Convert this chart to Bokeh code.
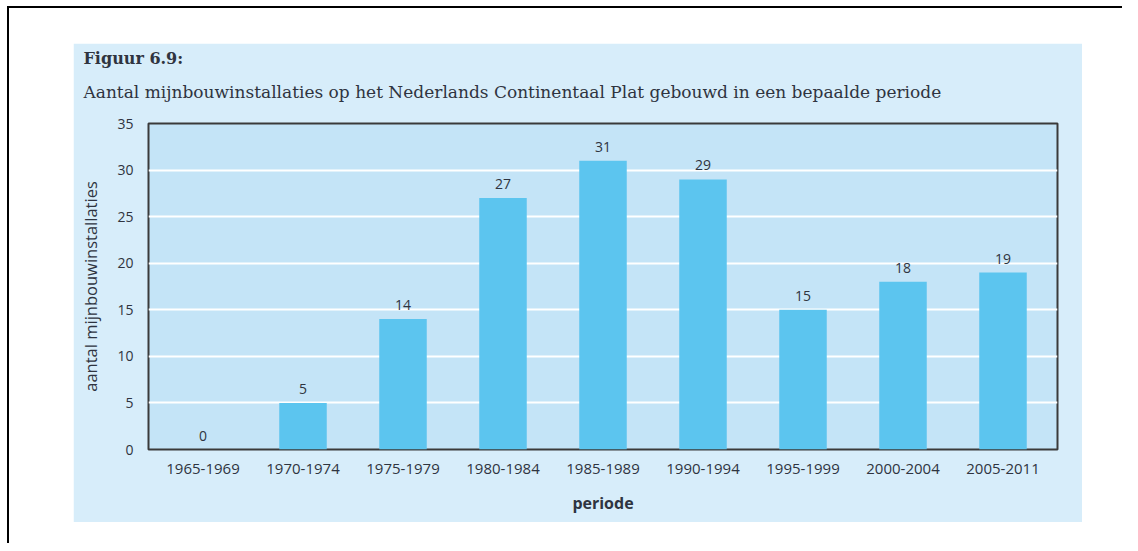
from bokeh.plotting import figure
from bokeh.layouts import column, row
from bokeh.models import (ColumnDataSource, FactorRange, LabelSet, Title,
                          SingleIntervalTicker, Spacer)
from bokeh.core.properties import value
from bokeh.embed import file_html
from bokeh.resources import INLINE

# ---- data ----
periods = ["1965-1969", "1970-1974", "1975-1979", "1980-1984", "1985-1989",
           "1990-1994", "1995-1999", "2000-2004", "2005-2011"]
counts = [0, 5, 14, 27, 31, 29, 15, 18, 19]
count_labels = [str(c) for c in counts]
title_text = "Figuur 6.9:"
subtitle_text = ("Aantal mijnbouwinstallaties op het Nederlands Continentaal Plat "
                 "gebouwd in een bepaalde periode")
y_label = "aantal mijnbouwinstallaties"
x_label = "periode"

# ---- styles ----
PANEL = "#d7edfa"
PLOT_BG = "#c4e4f7"
BAR = "#5cc5ef"
TEXT = "#2f3440"
SANS = "Open Sans"
SERIF = "DejaVu Serif"
W, H = 1009, 479

src = ColumnDataSource(dict(period=periods, count=counts, label=count_labels))

p = figure(x_range=FactorRange(factors=periods, range_padding=0.01),
           y_range=(0, 35), width=W, height=H,
           output_backend="svg", toolbar_location=None,
           min_border_left=75, min_border_right=25,
           min_border_top=80, min_border_bottom=73)
p.background_fill_color = PLOT_BG
p.border_fill_color = PANEL
p.outline_line_color = "#3a3a3a"
p.outline_line_width = 2

# titles
p.add_layout(Title(text=subtitle_text, align="left", offset=-65, standoff=44,
                   text_font=SERIF, text_font_size="17px",
                   text_font_style="normal", text_color=TEXT), "above")
p.title = Title(text=title_text, align="left", offset=-65, standoff=-20,
                text_font=SERIF, text_font_size="16px", text_font_style="bold",
                text_color=TEXT)

p.vbar(x="period", top="count", width=0.475, source=src,
       fill_color=BAR, line_color=None)

labels = LabelSet(x="period", y="count", text="label", source=src,
                  text_align="center", text_baseline="alphabetic", y_offset=9,
                  text_font=value(SANS), text_font_size=value("14px"),
                  text_color=TEXT)
p.add_layout(labels)

# axes
p.yaxis.ticker = SingleIntervalTicker(interval=5)
p.yaxis.axis_line_color = None
p.yaxis.major_tick_line_color = None
p.yaxis.minor_tick_line_color = None
p.yaxis.major_label_standoff = 9
p.yaxis.major_label_text_font = SANS
p.yaxis.major_label_text_font_size = "14px"
p.yaxis.major_label_text_color = TEXT
p.yaxis.axis_label = y_label
p.yaxis.axis_label_text_font = SANS
p.yaxis.axis_label_text_font_size = "16.5px"
p.yaxis.axis_label_text_font_style = "normal"
p.yaxis.axis_label_text_color = TEXT
p.yaxis.axis_label_standoff = 12

xax = p.below[0]
xax.axis_line_color = None
xax.major_tick_line_color = None
xax.minor_tick_line_color = None
xax.major_label_standoff = 8
xax.major_label_text_font = SANS
xax.major_label_text_font_size = "15px"
xax.major_label_text_color = TEXT
xax.axis_label = x_label
xax.axis_label_text_font = SANS
xax.axis_label_text_font_size = "16px"
xax.axis_label_text_font_style = "bold"
xax.axis_label_text_color = TEXT
xax.axis_label_standoff = 15

p.xgrid.grid_line_color = None
p.ygrid.grid_line_color = "white"
p.ygrid.grid_line_width = 2

# page frame lines
lead_top = Spacer(width=10, height=6)
lead_left = Spacer(width=7, height=10)
top_rule = Spacer(width=1115, height=2, styles={"background-color": "#000"})
left_rule = Spacer(width=2, height=535, styles={"background-color": "#000"})
gap = Spacer(width=64, height=10)
top_gap = Spacer(width=W, height=35)
layout = column(lead_top,
                row(lead_left,
                    column(top_rule,
                           row(left_rule, gap, column(top_gap, p)))))

open("out.html", "w").write(file_html(layout, INLINE))
